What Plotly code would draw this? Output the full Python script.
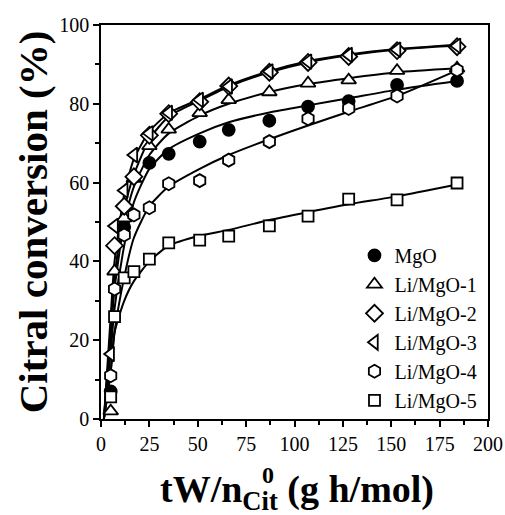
import plotly.graph_objects as go

# Space time tW/n0_Cit (g h/mol) at which conversion was measured
x_obs = [5, 7, 12, 17, 25, 35, 51, 66, 87, 107, 128, 153, 184]

# Measured citral conversion (%) per catalyst (None = no point shown)
conv_mgo = [7, None, 48.7, None, 65, 67.3, 70.4, 73.4, 75.7, 79.3, 80.7, 84.8, 85.8]
conv_li1 = [2, 37.5, 51, 61, 69.3, 73.5, 77.7, 81, 83, 85.2, 86, 88.4, 89]
conv_li2 = [None, 44, 54, 61.5, 72, 77.5, 80.5, 84.5, 88, 90.5, 92, 93.5, 94.5]
conv_li3 = [16.5, 49, 58, 67, 72.5, 77.7, 81, 84.4, 88.2, 90.7, 92.4, 93.7, 94.7]
conv_li4 = [11, 33, 46.7, 51.8, 53.6, 59.7, 60.5, 65.7, 70.4, 76.2, 78.8, 82, 88.6]
conv_li5 = [5.6, 26, 35.8, 37.4, 40.6, 44.7, 45.4, 46.4, 49, 51.5, 55.8, 55.6, 59.9]

# Kinetic model curves evaluated on a common grid
x_fit = [1.5, 5, 7, 12, 17, 25, 35, 51, 66, 87, 107, 128, 153, 184]
fit_mgo = [0, 17, 28, 44, 55, 63.5, 68.5, 72.5, 75.3, 77.8, 79.6, 81.4, 83.6, 85.8]
fit_li1 = [0, 21, 33, 50, 59, 67, 72.5, 77, 80, 83, 85, 86.5, 88, 89]
fit_li2 = [0, 22, 36, 53, 62, 71, 76.8, 80.8, 84.4, 88, 90.5, 92.3, 93.8, 94.8]
fit_li3 = [0, 26, 40, 57, 66, 73, 77.6, 81.2, 84.7, 88.3, 90.8, 92.5, 93.9, 95]
fit_li4 = [0, 12, 22, 36, 46, 54, 59, 63.5, 67, 71, 74.5, 78, 82, 88.5]
fit_li5 = [0, 12, 22, 30, 35, 40, 44, 46.5, 48, 50.5, 52.5, 54.5, 56.5, 59.5]

x_ticks = [0, 25, 50, 75, 100, 125, 150, 175, 200]
y_ticks = [0, 20, 40, 60, 80, 100]

names = ["MgO", "Li/MgO-1", "Li/MgO-2", "Li/MgO-3", "Li/MgO-4", "Li/MgO-5"]
observed = [conv_mgo, conv_li1, conv_li2, conv_li3, conv_li4, conv_li5]
fitted = [fit_mgo, fit_li1, fit_li2, fit_li3, fit_li4, fit_li5]
symbols = ["circle", "triangle-up", "diamond", "triangle-left", "hexagon", "square"]
fills = ["black", "white", "white", "white", "white", "white"]
sizes = [12, 13, 13, 13, 13, 11]

SERIF = "Liberation Serif, Times New Roman, serif"

fig = go.Figure()

for fit in fitted:
    fig.add_trace(go.Scatter(
        x=x_fit, y=fit, mode="lines", showlegend=False, hoverinfo="skip",
        line=dict(color="black", width=2, shape="spline", smoothing=0.6),
    ))

for name, obs, sym, fc, sz in zip(names, observed, symbols, fills, sizes):
    fig.add_trace(go.Scatter(
        x=x_obs, y=obs, mode="markers", name=name,
        marker=dict(symbol=sym, size=sz, color=fc,
                    line=dict(color="black", width=1.8)),
    ))

axis_common = dict(
    showline=True, linecolor="black", linewidth=1.5, mirror=True,
    ticks="outside", ticklen=6, tickwidth=1.5, tickcolor="black",
    showgrid=False, zeroline=False, automargin=False,
    tickfont=dict(family=SERIF, size=20, color="black"),
)

fig.update_xaxes(range=[0, 200], tickvals=x_ticks,
                 minor=dict(ticks="outside", ticklen=4, tickwidth=1.5,
                            tickcolor="black", dtick=12.5, tick0=0),
                 **axis_common)
fig.update_yaxes(range=[0, 100], tickvals=y_ticks,
                 minor=dict(ticks="outside", ticklen=4, tickwidth=1.5,
                            tickcolor="black", dtick=10, tick0=0),
                 **axis_common)

fig.add_annotation(
    text="<b>Citral conversion (%)</b>", textangle=-90,
    xref="paper", yref="paper", x=-0.175, y=0.5,
    xanchor="center", yanchor="middle", showarrow=False,
    font=dict(family=SERIF, size=41, color="black"),
)
fig.add_annotation(
    text="<b>tW/n<sub>Cit</sub> (g h/mol)</b>",
    xref="paper", yref="paper", x=0.507, y=-0.185,
    xanchor="center", yanchor="middle", showarrow=False,
    font=dict(family=SERIF, size=38, color="black"),
)
fig.add_annotation(
    text="<b>0</b>",
    xref="paper", yref="paper", x=0.432, y=-0.143,
    xanchor="center", yanchor="middle", showarrow=False,
    font=dict(family=SERIF, size=24, color="black"),
)

fig.update_layout(
    width=505, height=515,
    margin=dict(l=101, r=17, t=25, b=96, autoexpand=False),
    paper_bgcolor="white", plot_bgcolor="white",
    showlegend=True,
    legend=dict(x=0.655, y=0.465, xanchor="left", yanchor="top",
                bgcolor="rgba(0,0,0,0)", borderwidth=0,
                font=dict(family=SERIF, size=20, color="black"),
                itemwidth=30),
)

fig.write_html("out.html")
